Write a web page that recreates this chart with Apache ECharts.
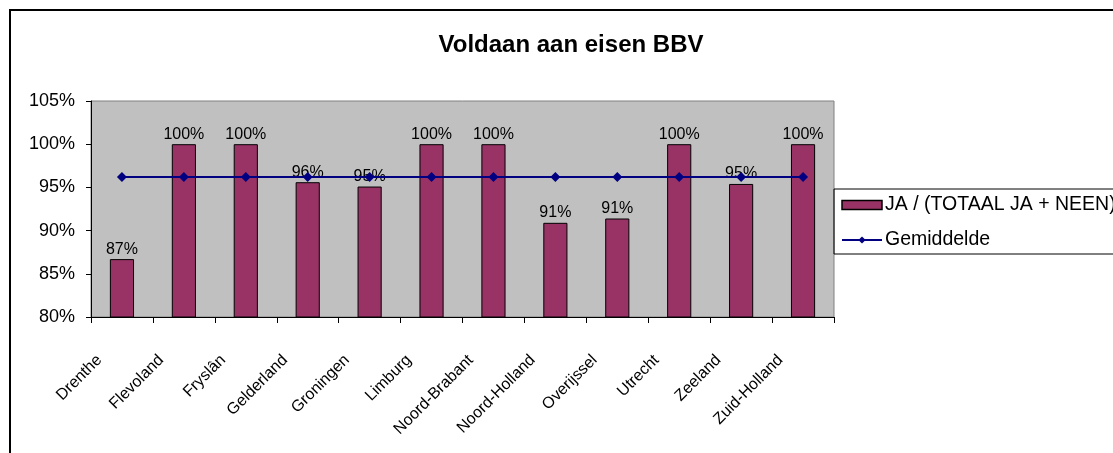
<!DOCTYPE html>
<html>
<head>
<meta charset="utf-8">
<script src="https://cdn.jsdelivr.net/npm/echarts@6/dist/echarts.min.js"></script>
<style>
  html, body { margin: 0; padding: 0; background: #fff; }
  #chart { width: 1113px; height: 453px; }
</style>
</head>
<body>
<div id="chart"></div>
<script>
  var provinces = ['Drenthe', 'Flevoland', 'Fryslân', 'Gelderland', 'Groningen', 'Limburg',
    'Noord-Brabant', 'Noord-Holland', 'Overijssel', 'Utrecht', 'Zeeland', 'Zuid-Holland']
  var ratio = [86.7, 100, 100, 95.6, 95.1, 100, 100, 90.9, 91.4, 100, 95.4, 100]
  var average = [96.2, 96.2, 96.2, 96.2, 96.2, 96.2, 96.2, 96.2, 96.2, 96.2, 96.2, 96.2]
  var yTicks = { min: 80, max: 105, step: 5 }

  var chart = echarts.init(document.getElementById('chart'))
  chart.setOption({
    animation: false,
    textStyle: { fontFamily: 'Liberation Sans, Arial, sans-serif' },
    title: {
      text: 'Voldaan aan eisen BBV',
      left: 566,
      textAlign: 'center',
      top: 28,
      textStyle: { fontSize: 24, fontWeight: 'bold', color: '#000' }
    },
    graphic: [
      {
        type: 'rect',
        shape: { x: 10, y: 10, width: 1200, height: 600 },
        style: { fill: 'none', stroke: '#000', lineWidth: 2 },
        silent: true
      }
    ],
    legend: {
      left: 834,
      top: 189,
      orient: 'vertical',
      padding: [6, 40, 4, 7],
      itemGap: 15,
      borderColor: '#000',
      borderWidth: 1,
      itemWidth: 40,
      itemHeight: 9,
      textStyle: { fontSize: 19.5, color: '#000', padding: [0, 0, 0, -2] },
      data: [
        { name: 'JA / (TOTAAL JA + NEEN)', icon: 'rect', itemStyle: { borderColor: '#000', borderWidth: 1.5 } },
        { name: 'Gemiddelde' }
      ]
    },
    grid: {
      left: 91,
      top: 101,
      right: 279,
      bottom: 136,
      show: true,
      backgroundColor: '#c0c0c0',
      borderColor: '#808080',
      borderWidth: 1
    },
    xAxis: {
      type: 'category',
      data: provinces,
      boundaryGap: true,
      axisLine: { lineStyle: { color: '#000', width: 1 } },
      axisTick: { show: true, inside: false, length: 6, alignWithLabel: false, lineStyle: { color: '#000' } },
      axisLabel: {
        interval: 0,
        rotate: 45,
        margin: 18,
        padding: [0, 32, 0, 0],
        fontSize: 16,
        color: '#000'
      }
    },
    yAxis: {
      type: 'value',
      min: yTicks.min,
      max: yTicks.max,
      interval: yTicks.step,
      axisLine: { show: true, lineStyle: { color: '#000', width: 1 } },
      axisTick: { show: true, length: 5, lineStyle: { color: '#000' } },
      splitLine: { show: false },
      axisLabel: {
        formatter: '{value}%',
        fontSize: 18,
        color: '#000',
        margin: 16
      }
    },
    series: [
      {
        name: 'JA / (TOTAAL JA + NEEN)',
        type: 'bar',
        data: ratio,
        barWidth: '39%',
        itemStyle: { color: '#993366', borderColor: '#000', borderWidth: 1 },
        label: {
          show: true,
          position: 'top',
          distance: 2,
          fontSize: 16,
          color: '#000',
          formatter: function (p) { return Math.round(p.value) + '%' }
        },
        z: 2
      },
      {
        name: 'Gemiddelde',
        type: 'line',
        data: average,
        color: '#000080',
        lineStyle: { width: 2, color: '#000080' },
        symbol: 'diamond',
        symbolSize: 10,
        itemStyle: { color: '#000080' },
        z: 3
      }
    ]
  })
</script>
</body>
</html>
